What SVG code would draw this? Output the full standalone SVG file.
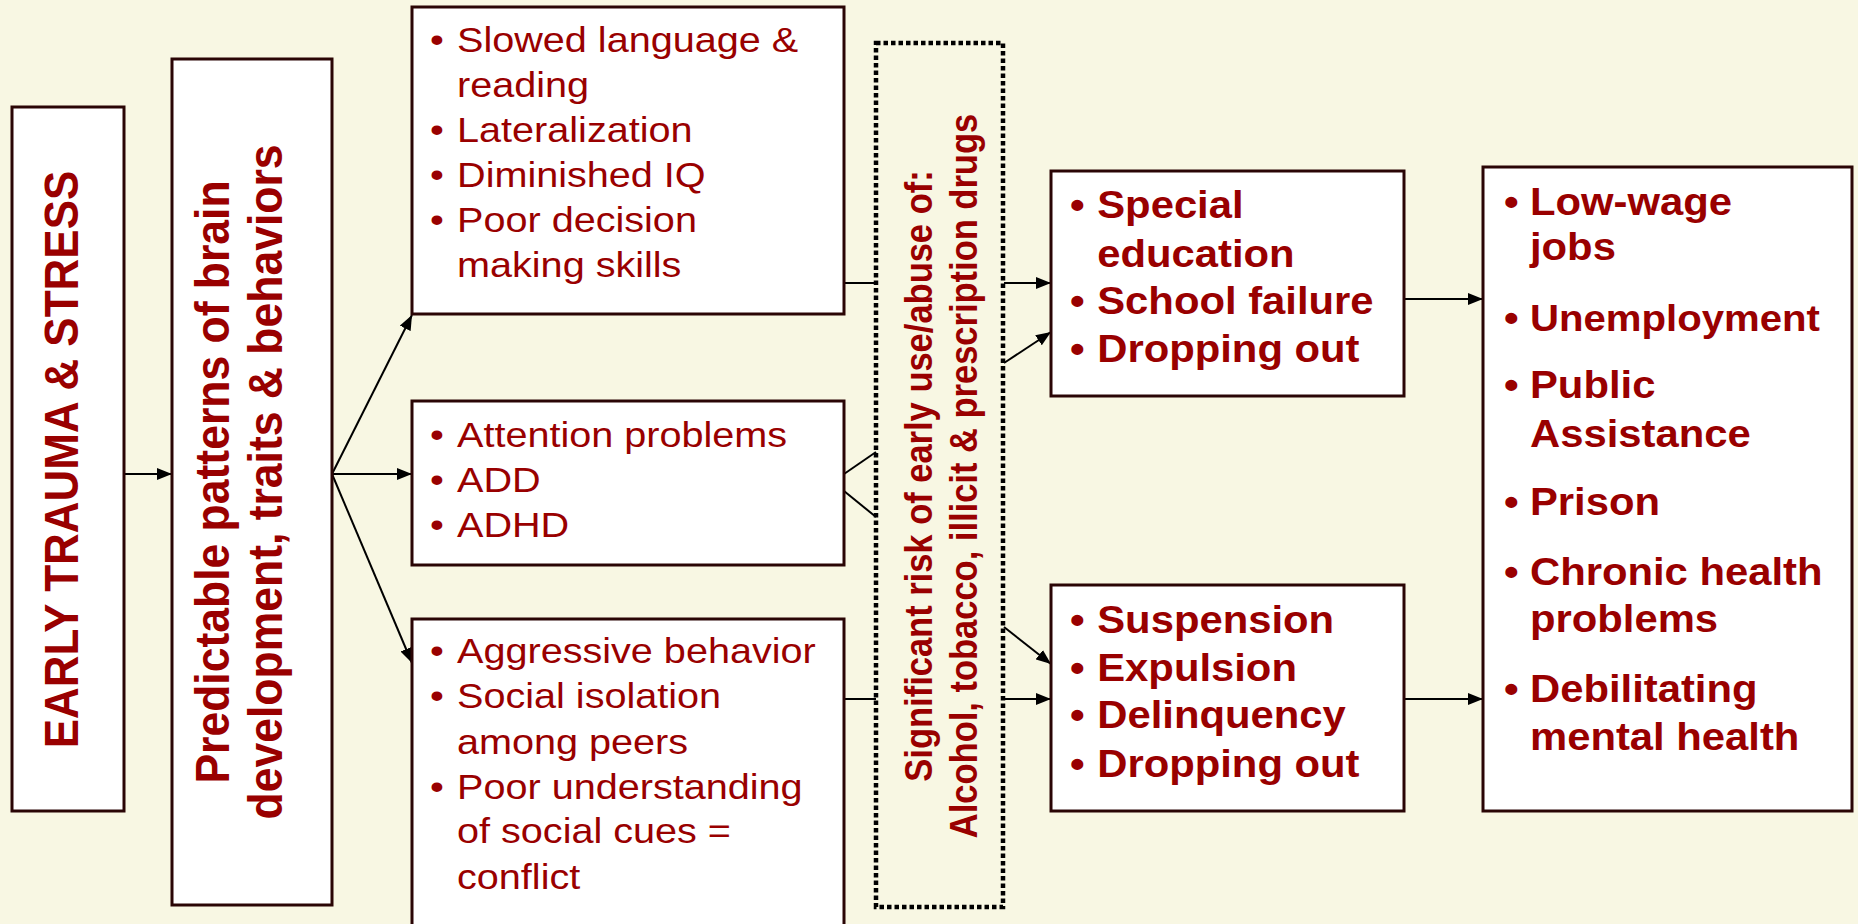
<svg xmlns="http://www.w3.org/2000/svg" width="1858" height="924" viewBox="0 0 1858 924">
<defs>
<marker id="ah" markerUnits="userSpaceOnUse" markerWidth="16" markerHeight="12" refX="15" refY="6" orient="auto">
<path d="M0,0 L15,6 L0,12 z" fill="#000"/>
</marker>
<style>
.box{fill:#fff;stroke:#2a0505;stroke-width:3}
.dot{fill:none;stroke:#000;stroke-width:4.5;stroke-dasharray:4.5 3}
.ln{fill:none;stroke:#000;stroke-width:2}
.arr{fill:none;stroke:#000;stroke-width:2;marker-end:url(#ah)}
.t{font-family:"Liberation Sans",Arial,sans-serif;fill:#990000}
.r{font-size:36px}
.b{font-size:38px;font-weight:bold}
.vb{font-weight:bold;text-anchor:middle}
</style>
</defs>
<rect width="1858" height="924" fill="#f8f7e3"/>

<g id="connectors">
<line class="arr" x1="124" y1="474" x2="172" y2="474"/>
<line class="arr" x1="332" y1="474" x2="412" y2="315"/>
<line class="arr" x1="332" y1="474" x2="412" y2="474"/>
<line class="arr" x1="332" y1="474" x2="412" y2="663"/>
<line class="ln" x1="844" y1="283" x2="876" y2="283"/>
<line class="ln" x1="844" y1="474" x2="876" y2="452"/>
<line class="ln" x1="844" y1="491" x2="876" y2="517"/>
<line class="ln" x1="844" y1="699" x2="876" y2="699"/>
<line class="arr" x1="1004" y1="283" x2="1051" y2="283"/>
<line class="arr" x1="1004" y1="363" x2="1051" y2="332"/>
<line class="arr" x1="1004" y1="627" x2="1051" y2="664"/>
<line class="arr" x1="1004" y1="699" x2="1051" y2="699"/>
<line class="arr" x1="1404" y1="299" x2="1483" y2="299"/>
<line class="arr" x1="1404" y1="699" x2="1483" y2="699"/>
</g>

<g id="early-trauma">
<rect class="box" x="12" y="107" width="112" height="704"/>
<g transform="scale(1.1,1)">
<text class="t vb" font-size="44" transform="translate(70.6,459.5) rotate(-90)">EARLY TRAUMA &amp; STRESS</text>
</g>
</g>

<g id="predictable-patterns">
<rect class="box" x="172" y="59" width="160" height="846"/>
<g transform="scale(1.1,1)">
<text class="t vb" font-size="44.5" transform="translate(208.2,482) rotate(-90)">Predictable patterns of brain</text>
<text class="t vb" font-size="44.5" transform="translate(256.4,482) rotate(-90)">development, traits &amp; behaviors</text>
</g>
</g>

<g id="cognitive">
<rect class="box" x="412" y="7" width="432" height="307"/>
<g transform="scale(1.1,1)" class="t r">
<text x="390.9" y="52.3">•</text><text x="415.5" y="52.3">Slowed language &amp;</text>
<text x="415.5" y="97.3">reading</text>
<text x="390.9" y="142.3">•</text><text x="415.5" y="142.3">Lateralization</text>
<text x="390.9" y="187.3">•</text><text x="415.5" y="187.3">Diminished IQ</text>
<text x="390.9" y="232.3">•</text><text x="415.5" y="232.3">Poor decision</text>
<text x="415.5" y="276.7">making skills</text>
</g>
</g>

<g id="attention">
<rect class="box" x="412" y="401" width="432" height="164"/>
<g transform="scale(1.1,1)" class="t r">
<text x="390.9" y="446.7">•</text><text x="415.5" y="446.7">Attention problems</text>
<text x="390.9" y="491.7">•</text><text x="415.5" y="491.7">ADD</text>
<text x="390.9" y="536.7">•</text><text x="415.5" y="536.7">ADHD</text>
</g>
</g>

<g id="social">
<rect class="box" x="412" y="619" width="432" height="330"/>
<g transform="scale(1.1,1)" class="t r">
<text x="390.9" y="663.3">•</text><text x="415.5" y="663.3">Aggressive behavior</text>
<text x="390.9" y="708.3">•</text><text x="415.5" y="708.3">Social isolation</text>
<text x="415.5" y="754.3">among peers</text>
<text x="390.9" y="799">•</text><text x="415.5" y="799">Poor understanding</text>
<text x="415.5" y="843.3">of social cues =</text>
<text x="415.5" y="889">conflict</text>
</g>
</g>

<g id="substance-risk">
<rect class="dot" x="876" y="43" width="127" height="864"/>
<g transform="scale(1.1,1)">
<text class="t vb" font-size="34.5" transform="translate(847.3,476) rotate(-90)">Significant risk of early use/abuse of:</text>
<text class="t vb" font-size="34.5" transform="translate(888.2,476) rotate(-90)">Alcohol, tobacco, illicit &amp; prescription drugs</text>
</g>
</g>

<g id="school-outcomes">
<rect class="box" x="1051" y="171" width="353" height="225"/>
<g transform="scale(1.1,1)" class="t b">
<text x="972.7" y="218.3">•</text><text x="997.5" y="218.3">Special</text>
<text x="997.5" y="266.7">education</text>
<text x="972.7" y="314.3">•</text><text x="997.5" y="314.3">School failure</text>
<text x="972.7" y="361.7">•</text><text x="997.5" y="361.7">Dropping out</text>
</g>
</g>

<g id="discipline-outcomes">
<rect class="box" x="1051" y="585" width="353" height="226"/>
<g transform="scale(1.1,1)" class="t b">
<text x="972.7" y="633.3">•</text><text x="997.5" y="633.3">Suspension</text>
<text x="972.7" y="680.7">•</text><text x="997.5" y="680.7">Expulsion</text>
<text x="972.7" y="728.3">•</text><text x="997.5" y="728.3">Delinquency</text>
<text x="972.7" y="776.7">•</text><text x="997.5" y="776.7">Dropping out</text>
</g>
</g>

<g id="adult-outcomes">
<rect class="box" x="1483" y="167" width="369" height="644"/>
<g transform="scale(1.1,1)" class="t b">
<text x="1367.3" y="215">•</text><text x="1390.9" y="215">Low-wage</text>
<text x="1390.9" y="260">jobs</text>
<text x="1367.3" y="330.7">•</text><text x="1390.9" y="330.7" font-size="36.5">Unemployment</text>
<text x="1367.3" y="398.3">•</text><text x="1390.9" y="398.3">Public</text>
<text x="1390.9" y="446.7">Assistance</text>
<text x="1367.3" y="515">•</text><text x="1390.9" y="515">Prison</text>
<text x="1367.3" y="585">•</text><text x="1390.9" y="585">Chronic health</text>
<text x="1390.9" y="631.7">problems</text>
<text x="1367.3" y="701.7">•</text><text x="1390.9" y="701.7">Debilitating</text>
<text x="1390.9" y="750">mental health</text>
</g>
</g>
</svg>
